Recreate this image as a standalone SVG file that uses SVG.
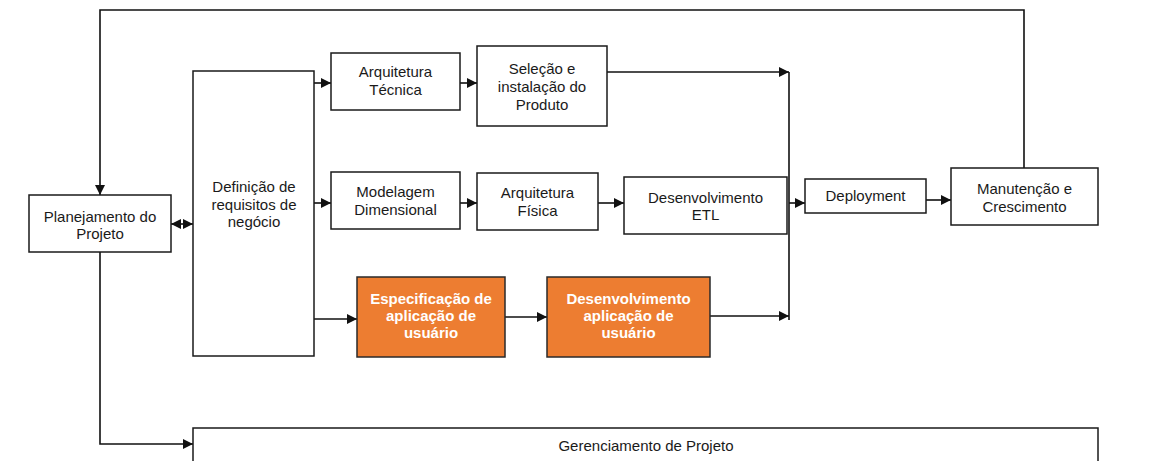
<svg xmlns="http://www.w3.org/2000/svg" width="1153" height="461" viewBox="0 0 1153 461">
<defs>
<marker id="ah" markerUnits="userSpaceOnUse" markerWidth="10" markerHeight="11" refX="10" refY="5.5" orient="auto-start-reverse" viewBox="0 0 10 11">
<path d="M0,0.5 L10,5.5 L0,10.5 z" fill="#111"/>
</marker>
<style>
.box{fill:#fff;stroke:#1a1a1a;stroke-width:1.5}
.obox{fill:#ED7D31;stroke:#2a2a2a;stroke-width:1.5}
.t{font-family:"Liberation Sans",Arial,sans-serif;font-size:15px;fill:#1a1a1a;text-anchor:middle}
.ot{font-family:"Liberation Sans",Arial,sans-serif;font-size:15px;font-weight:bold;fill:#fff;text-anchor:middle}
.c{fill:none;stroke:#111;stroke-width:1.6}
.a{marker-end:url(#ah)}
</style>
</defs>
<rect width="1153" height="461" fill="#fff"/>

<g id="connectors">
<path class="c a" d="M1024,168 V10 H100 V195"/>
<path class="c" d="M171,224 H193" marker-start="url(#ah)" marker-end="url(#ah)"/>
<path class="c a" d="M314,83 H331"/>
<path class="c a" d="M314,203 H331"/>
<path class="c a" d="M314,319 H357"/>
<path class="c a" d="M460,83 H477"/>
<path class="c a" d="M607,72 H789"/>
<path class="c a" d="M460,203 H477"/>
<path class="c a" d="M598,203 H624"/>
<path class="c" d="M789,72 V320"/>
<path class="c a" d="M789,203 H805"/>
<path class="c a" d="M505,317 H547"/>
<path class="c a" d="M710,316 H789"/>
<path class="c a" d="M926,200 H951"/>
<path class="c a" d="M100,252 V444 H193"/>
</g>

<g id="planejamento">
<rect class="box" x="29" y="195" width="142" height="57"/>
<text class="t" x="100" y="221.5">Planejamento do</text>
<text class="t" x="100" y="239">Projeto</text>
</g>

<g id="definicao">
<rect class="box" x="193" y="71" width="121" height="285"/>
<text class="t" x="254" y="192">Definição de</text>
<text class="t" x="254" y="209.5">requisitos de</text>
<text class="t" x="254" y="227">negócio</text>
</g>

<g id="arq-tecnica">
<rect class="box" x="331" y="53" width="129" height="57"/>
<text class="t" x="395.5" y="77">Arquitetura</text>
<text class="t" x="395.5" y="94.5">Técnica</text>
</g>

<g id="selecao">
<rect class="box" x="477" y="46" width="130" height="80"/>
<text class="t" x="542" y="73.5">Seleção e</text>
<text class="t" x="542" y="91.5">instalação do</text>
<text class="t" x="542" y="109.5">Produto</text>
</g>

<g id="modelagem">
<rect class="box" x="331" y="172" width="129" height="57"/>
<text class="t" x="395.5" y="197">Modelagem</text>
<text class="t" x="395.5" y="214.5">Dimensional</text>
</g>

<g id="arq-fisica">
<rect class="box" x="477" y="173" width="121" height="57"/>
<text class="t" x="537.5" y="198">Arquitetura</text>
<text class="t" x="537.5" y="215.5">Física</text>
</g>

<g id="etl">
<rect class="box" x="624" y="177" width="163" height="57"/>
<text class="t" x="705.5" y="202.5">Desenvolvimento</text>
<text class="t" x="705.5" y="220">ETL</text>
</g>

<g id="deployment">
<rect class="box" x="805" y="179" width="121" height="34"/>
<text class="t" x="865.5" y="201">Deployment</text>
</g>

<g id="manutencao">
<rect class="box" x="951" y="168" width="147" height="57"/>
<text class="t" x="1024.5" y="193.5">Manutenção e</text>
<text class="t" x="1024.5" y="211.5">Crescimento</text>
</g>

<g id="especificacao">
<rect class="obox" x="357" y="277" width="148" height="80"/>
<text class="ot" x="431" y="303.5">Especificação de</text>
<text class="ot" x="431" y="320.5">aplicação de</text>
<text class="ot" x="431" y="338">usuário</text>
</g>

<g id="desenv-app">
<rect class="obox" x="547" y="277" width="163" height="80"/>
<text class="ot" x="628.5" y="303.5">Desenvolvimento</text>
<text class="ot" x="628.5" y="320.5">aplicação de</text>
<text class="ot" x="628.5" y="338">usuário</text>
</g>

<g id="gerenciamento">
<rect class="box" x="193" y="428" width="905" height="60"/>
<text class="t" x="646" y="451">Gerenciamento de Projeto</text>
</g>
</svg>
